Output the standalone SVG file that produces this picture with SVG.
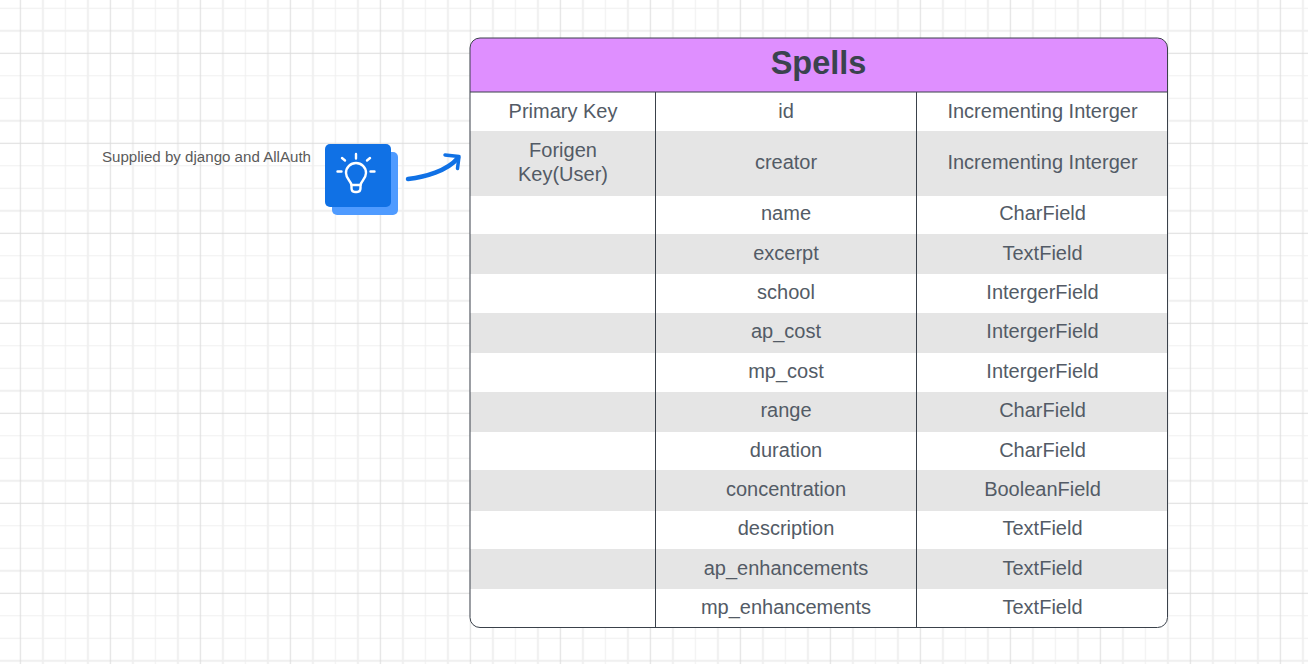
<svg xmlns="http://www.w3.org/2000/svg" width="1308" height="664" viewBox="0 0 1308 664">
<style>
text{font-family:"Liberation Sans",Arial,sans-serif;text-anchor:middle;fill:#535b66}
.c{font-size:20px}
.r{fill:#e5e5e5}
</style>
<defs>
<pattern id="grid" width="90" height="90" patternUnits="userSpaceOnUse" x="9.15" y="42.05">
<path d="M33.75 0V90M78.75 0V90" stroke="#efefef" stroke-width="2" fill="none"/>
<path d="M56.25 0V90" stroke="#efefef" stroke-width="1" fill="none"/>
<path d="M0 33.75H90M0 56.25H90" stroke="#efefef" stroke-width="1" fill="none"/>
<path d="M0 78.75H90" stroke="#efefef" stroke-width="2" fill="none"/>
<path d="M11.25 0V90M0 11.25H90" stroke="#dcdcdc" stroke-width="1" fill="none"/>
</pattern>
</defs>
<rect width="1308" height="664" fill="#fff"/>
<rect width="1308" height="664" fill="url(#grid)"/>
<g id="note"><text x="206.5" y="161.5" style="font-size:15.1px;fill:#5a5a5a">Supplied by django and AllAuth</text></g>
<g id="icon">
<rect x="332" y="152" width="66" height="63" rx="5" fill="#4f9bff"/>
<rect x="325" y="144" width="66" height="63" rx="5" fill="#1071e5"/>
<g fill="none" stroke="#fff" stroke-width="2.4" stroke-linecap="round" stroke-linejoin="round">
<path d="M356 154V158.500M342 158L345 160.500M370 158L367 160.500M337.500 171.500H341.500M370.500 171.500H374.500"/>
<path d="M351.500 185C351 181 346 179 346 173A10 10 0 0 1 366 173C366 179 361 181 360.500 185Z"/>
<path d="M351.500 185V188Q351.500 192 355 192H357Q360.500 192 360.500 188V185"/>
</g>
</g>
<g id="connectors">
<path d="M408 179C425 177 447 171 458 158" fill="none" stroke="#1071e5" stroke-width="4.500" stroke-linecap="round"/>
<path d="M445 155L459 156.500L457.500 168.500" fill="none" stroke="#1071e5" stroke-width="3.500" stroke-linecap="round" stroke-linejoin="round"/>
</g>
<g id="table">
<rect x="470" y="38" width="697.500" height="589.500" rx="10" fill="#fff"/>
<path d="M470 92V48A10 10 0 0 1 480 38H1157.500A10 10 0 0 1 1167.500 48V92Z" fill="#df8fff"/>
<rect class="r" x="470" y="131" width="697.500" height="65"/>
<rect class="r" x="470" y="234" width="697.500" height="40"/>
<rect class="r" x="470" y="313" width="697.500" height="40"/>
<rect class="r" x="470" y="392" width="697.500" height="40"/>
<rect class="r" x="470" y="470" width="697.500" height="41"/>
<rect class="r" x="470" y="549" width="697.500" height="40"/>
<path d="M470 92H1167.500M655.500 92V627.500M916.500 92V627.500" fill="none" stroke="#3a414a" stroke-width="1"/>
<rect x="470" y="38" width="697.500" height="589.500" rx="10" fill="none" stroke="#3a414a" stroke-width="1"/>
<text x="818.500" y="74" style="font-size:32.500px;font-weight:700;fill:#3a434e">Spells</text>
<text class="c" x="563" y="118">Primary Key</text>
<text class="c" x="563" y="157">Forigen</text>
<text class="c" x="563" y="181">Key(User)</text>
<text class="c" x="786" y="118">id</text><text class="c" x="1042.500" y="118">Incrementing Interger</text>
<text class="c" x="786" y="169">creator</text><text class="c" x="1042.500" y="169">Incrementing Interger</text>
<text class="c" x="786" y="220">name</text><text class="c" x="1042.500" y="220">CharField</text>
<text class="c" x="786" y="260">excerpt</text><text class="c" x="1042.500" y="260">TextField</text>
<text class="c" x="786" y="299">school</text><text class="c" x="1042.500" y="299">IntergerField</text>
<text class="c" x="786" y="338">ap_cost</text><text class="c" x="1042.500" y="338">IntergerField</text>
<text class="c" x="786" y="378">mp_cost</text><text class="c" x="1042.500" y="378">IntergerField</text>
<text class="c" x="786" y="417">range</text><text class="c" x="1042.500" y="417">CharField</text>
<text class="c" x="786" y="457">duration</text><text class="c" x="1042.500" y="457">CharField</text>
<text class="c" x="786" y="496">concentration</text><text class="c" x="1042.500" y="496">BooleanField</text>
<text class="c" x="786" y="535">description</text><text class="c" x="1042.500" y="535">TextField</text>
<text class="c" x="786" y="575">ap_enhancements</text><text class="c" x="1042.500" y="575">TextField</text>
<text class="c" x="786" y="614">mp_enhancements</text><text class="c" x="1042.500" y="614">TextField</text>
</g>
</svg>
